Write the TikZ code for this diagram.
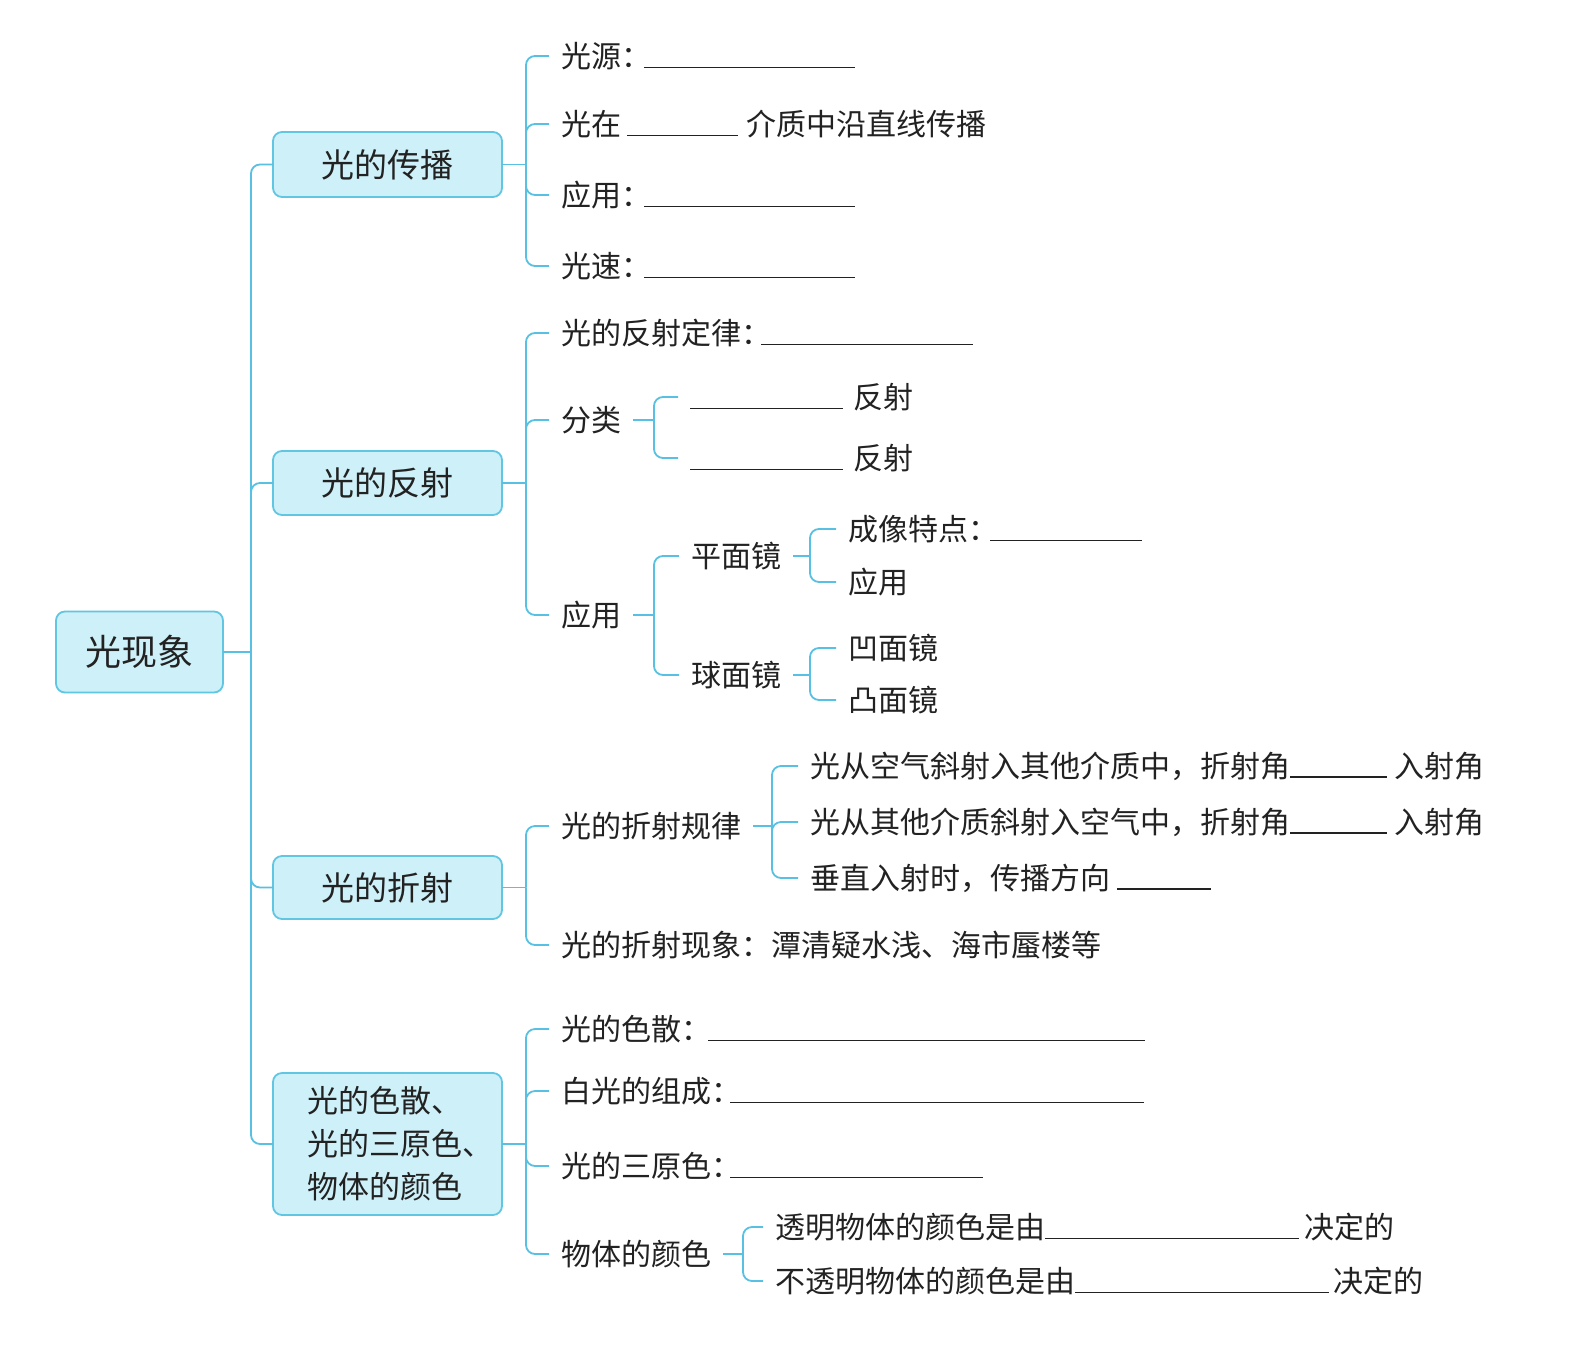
\documentclass[tikz,border=0pt]{standalone}
\usepackage{fontspec}
\setmainfont{Noto Sans CJK SC}
\definecolor{lineC}{RGB}{88,192,226}
\definecolor{boxF}{RGB}{206,240,248}
\definecolor{boxD}{RGB}{96,198,226}
\definecolor{txt}{RGB}{34,34,34}
\newcommand{\blk}[1]{\rule[-1pt]{#1pt}{1.8pt}}
\tikzset{
 conn/.style={draw=lineC, line width=1.8pt, rounded corners=9pt},
 topbox/.style={draw=boxD, fill=boxF, line width=1.8pt, rounded corners=9pt, text=txt, inner sep=0pt, outer sep=0pt},
 leaf/.style={anchor=west, inner sep=0pt, outer xsep=12pt, outer ysep=0pt, text=txt, font=\fontsize{30}{36}\selectfont},
}
\begin{document}
\begin{tikzpicture}[x=1pt,y=-1pt]
\fill[white] (0,0) rectangle (1592,1347);
\useasboundingbox (0,0) rectangle (1592,1347);
% main boxes
\node[topbox, minimum width=167pt, minimum height=81pt, font=\fontsize{36}{40}\selectfont] (root) at (139.5,652) {光现象};
\node[topbox, minimum width=229pt, minimum height=65pt, font=\fontsize{33}{38}\selectfont] (b1) at (387.5,164.5) {光的传播};
\node[topbox, minimum width=229pt, minimum height=64pt, font=\fontsize{33}{38}\selectfont] (b2) at (387.5,483) {光的反射};
\node[topbox, minimum width=229pt, minimum height=63pt, font=\fontsize{33}{38}\selectfont] (b3) at (387.5,887.5) {光的折射};
\node[topbox, minimum width=229pt, minimum height=142pt, font=\fontsize{31}{43}\selectfont, align=left] (b4) at (387.5,1144) {\hspace*{25pt}光的色散、\\\hspace*{25pt}光的三原色、\\\hspace*{25pt}物体的颜色};
% leaves group 1
\node[leaf] (c11) at (549,56) {光源：\hspace{-7pt}\blk{211}};
\node[leaf] (c12) at (549,124) {光在\hspace{6pt}\blk{111}\hspace{8pt}介质中沿直线传播};
\node[leaf] (c13) at (549,195) {应用：\hspace{-7pt}\blk{211}};
\node[leaf] (c14) at (549,266) {光速：\hspace{-7pt}\blk{211}};
% group 2
\node[leaf] (c21) at (549,333) {光的反射定律：\hspace{-10pt}\blk{212}};
\node[leaf] (c22) at (549,420) {分类};
\node[leaf] (c221) at (678,397) {\blk{153}\hspace{10pt}反射};
\node[leaf] (c222) at (678,458) {\blk{153}\hspace{10pt}反射};
\node[leaf] (c23) at (549,615) {应用};
\node[leaf] (c231) at (679,556) {平面镜};
\node[leaf] (c2311) at (836,529) {成像特点：\hspace{-8pt}\blk{152}};
\node[leaf] (c2312) at (836,582) {应用};
\node[leaf] (c232) at (679,675) {球面镜};
\node[leaf] (c2321) at (836,648) {凹面镜};
\node[leaf] (c2322) at (836,700) {凸面镜};
% group 3
\node[leaf] (c31) at (549,826) {光的折射规律};
\node[leaf] (c311) at (798,766) {光从空气斜射入其他介质中，折射角\blk{97}\hspace{7pt}入射角};
\node[leaf] (c312) at (798,822) {光从其他介质斜射入空气中，折射角\blk{97}\hspace{7pt}入射角};
\node[leaf] (c313) at (798,878) {垂直入射时，传播方向\hspace{7pt}\blk{94}};
\node[leaf] (c32) at (549,945) {光的折射现象：潭清疑水浅、海市蜃楼等};
% group 4
\node[leaf] (c41) at (549,1029) {光的色散：\hspace{-3pt}\blk{437}};
\node[leaf] (c42) at (549,1091) {白光的组成：\hspace{-11pt}\blk{414}};
\node[leaf] (c43) at (549,1166) {光的三原色：\hspace{-11pt}\blk{253}};
\node[leaf] (c44) at (549,1254) {物体的颜色};
\node[leaf] (c441) at (763,1227) {透明物体的颜色是由\blk{254}\hspace{5pt}决定的};
\node[leaf] (c442) at (763,1281) {不透明物体的颜色是由\blk{254}\hspace{4pt}决定的};
% junctions
\coordinate (t0) at ([xshift=28pt]root.east);
\coordinate (j1) at ([xshift=24pt]b1.east);
\coordinate (j2) at ([xshift=24pt]b2.east);
\coordinate (j3) at ([xshift=24pt]b3.east);
\coordinate (j4) at ([xshift=24pt]b4.east);
\coordinate (j22) at ([xshift=21pt]c22.east);
\coordinate (j23) at ([xshift=21pt]c23.east);
\coordinate (j231) at ([xshift=17pt]c231.east);
\coordinate (j232) at ([xshift=17pt]c232.east);
\coordinate (j31) at ([xshift=19pt]c31.east);
\coordinate (j44) at ([xshift=20pt]c44.east);
% trunk
\draw[conn] (root.east) -- (t0);
\foreach \b in {b1,b2,b3,b4} \draw[conn] (t0) |- (\b.west);
% group brackets
\draw[conn] (b1.east) -- (j1);
\foreach \c in {c11,c12,c13,c14} \draw[conn] (j1) |- (\c.west);
\draw[conn] (b2.east) -- (j2);
\foreach \c in {c21,c22,c23} \draw[conn] (j2) |- (\c.west);
\draw[conn] (c22.east) -- (j22);
\foreach \c in {c221,c222} \draw[conn] (j22) |- (\c.west);
\draw[conn] (c23.east) -- (j23);
\foreach \c in {c231,c232} \draw[conn] (j23) |- (\c.west);
\draw[conn] (c231.east) -- (j231);
\foreach \c in {c2311,c2312} \draw[conn] (j231) |- (\c.west);
\draw[conn] (c232.east) -- (j232);
\foreach \c in {c2321,c2322} \draw[conn] (j232) |- (\c.west);
\draw[conn] (b3.east) -- (j3);
\foreach \c in {c31,c32} \draw[conn] (j3) |- (\c.west);
\draw[conn] (c31.east) -- (j31);
\foreach \c in {c311,c312,c313} \draw[conn] (j31) |- (\c.west);
\draw[conn] (b4.east) -- (j4);
\foreach \c in {c41,c42,c43,c44} \draw[conn] (j4) |- (\c.west);
\draw[conn] (c44.east) -- (j44);
\foreach \c in {c441,c442} \draw[conn] (j44) |- (\c.west);
\end{tikzpicture}
\end{document}
